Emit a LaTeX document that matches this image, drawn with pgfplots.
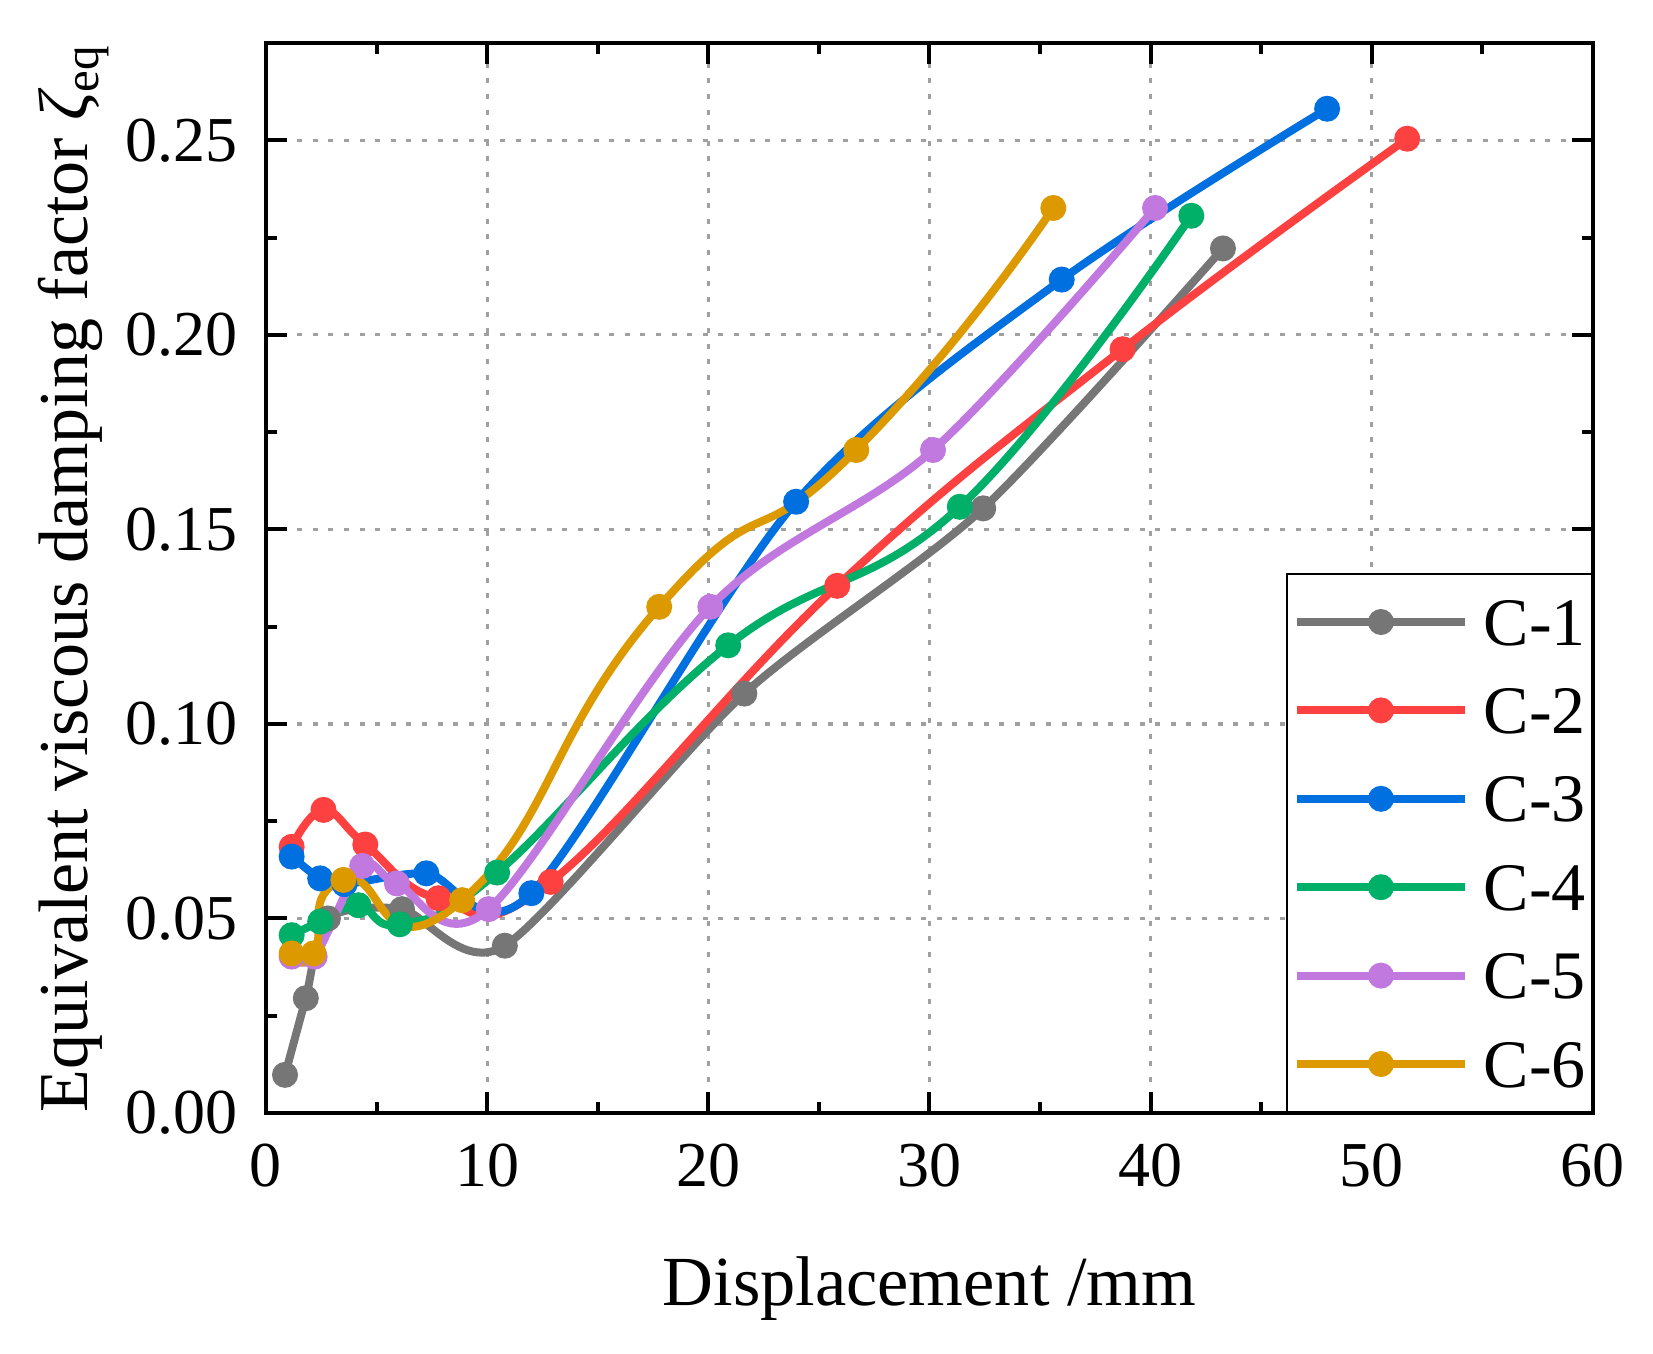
\documentclass[border=0pt]{standalone}
\usepackage{fontspec}
\setmainfont{Liberation Serif}
\usepackage{pgfplots}
\pgfplotsset{compat=1.18}
\definecolor{cOne}{RGB}{118,118,118}
\definecolor{cTwo}{RGB}{253,64,64}
\definecolor{cThree}{RGB}{0,112,225}
\definecolor{cFour}{RGB}{0,175,104}
\definecolor{cFive}{RGB}{193,121,224}
\definecolor{cSix}{RGB}{220,153,0}
\definecolor{gridc}{RGB}{160,160,160}
\begin{document}
\begin{tikzpicture}
\begin{axis}[
 scale only axis, width=331.75pt, height=267.5pt,
 xmin=0, xmax=60, ymin=0, ymax=0.275,
 xtick={0,10,20,30,40,50,60},
 ytick={0,0.05,0.1,0.15,0.2,0.25},
 minor x tick num=1, minor y tick num=1,
 tick align=inside, tick pos=both,
 major tick length=5.25pt, minor tick length=2.75pt,
 every tick/.style={black, line width=1pt},
 axis line style={line width=1.1pt},
 grid=major,
 major grid style={draw=gridc, line width=0.8pt, dash pattern=on 1.25pt off 2.65pt},
 scaled y ticks=false,
 /pgf/number format/assume math mode=true,
 yticklabel style={/pgf/number format/fixed, /pgf/number format/fixed zerofill, /pgf/number format/precision=2},
 ticklabel style={font=\fontsize{16}{16}\selectfont},
 xticklabel style={anchor=north, inner sep=0pt, yshift=-7.5pt},
 yticklabel style={anchor=east, inner sep=0pt, xshift=-7pt},
 xlabel={Displacement /mm},
 ylabel={Equivalent viscous damping factor {\itshape ζ}\textsubscript{eq}},
 xlabel style={font=\fontsize{17.6}{17.6}\selectfont, at={([yshift=-48pt]axis description cs:0.5,0)}, anchor=base},
 ylabel style={font=\fontsize{17.5}{17.5}\selectfont, at={([xshift=-44.5pt]axis description cs:0,0.5)}, anchor=base},
 legend style={at={(axis description cs:1,0)}, anchor=south east, draw=black, line width=0.5pt,
   inner xsep=1.5pt, inner ysep=6.25pt, row sep=10.6pt, column sep=3.75pt,
   font=\fontsize{17}{17}\selectfont,
   nodes={inner sep=0pt, text height=11.5pt, text depth=0pt}},
 legend cell align=left,
 legend image code/.code={\draw[mark repeat=2,mark phase=2] plot coordinates {(0pt,0pt) (21pt,0pt) (42pt,0pt)};},
 every axis plot/.append style={line width=2pt, smooth, tension=0.7, mark=*, mark size=3pt},
]
\addplot[color=cOne, tension=0.45, mark options={fill=cOne, line width=0.5pt}] coordinates {
 (0.86,0.0098) (1.8,0.0295) (2.8,0.0500) (6.15,0.0524) (10.8,0.0430) (21.63,0.1078) (32.43,0.1554) (43.27,0.2222)};
\addlegendentry{C-1}
\addplot[color=cTwo, mark options={fill=cTwo, line width=0.5pt}] coordinates {
 (1.16,0.0684) (2.6,0.0779) (4.49,0.0690) (7.8,0.0552) (12.87,0.0594) (25.83,0.1355) (38.73,0.1963) (51.6,0.2504)};
\addlegendentry{C-2}
\addplot[color=cThree, tension=0.5, mark options={fill=cThree, line width=0.5pt}] coordinates {
 (1.16,0.0659) (2.45,0.0603) (3.55,0.0588) (7.25,0.0616) (12.0,0.0565) (23.97,0.1571) (35.98,0.2142) (47.98,0.2581)};
\addlegendentry{C-3}
\addplot[color=cFour, mark options={fill=cFour, line width=0.5pt}] coordinates {
 (1.16,0.0457) (2.45,0.0492) (4.18,0.0534) (6.05,0.0485) (10.45,0.0618) (20.9,0.1202) (31.37,0.1558) (41.84,0.2306)};
\addlegendentry{C-4}
\addplot[color=cFive, tension=0.55, mark options={fill=cFive, line width=0.5pt}] coordinates {
 (1.16,0.0402) (2.2,0.0402) (4.35,0.0635) (5.92,0.0590) (10.07,0.0524) (20.09,0.1301) (30.16,0.1704) (40.2,0.2326)};
\addlegendentry{C-5}
\addplot[color=cSix, tension=1, mark options={fill=cSix, line width=0.5pt}] coordinates {
 (1.16,0.041) (2.15,0.041) (3.5,0.0599) (8.87,0.0547) (17.78,0.1301) (26.69,0.1704) (35.6,0.2326)};
\addlegendentry{C-6}
\end{axis}
\pgfresetboundingbox
\path (-66.5pt,-60pt) rectangle (346.75pt,278.25pt);
\end{tikzpicture}
\end{document}
